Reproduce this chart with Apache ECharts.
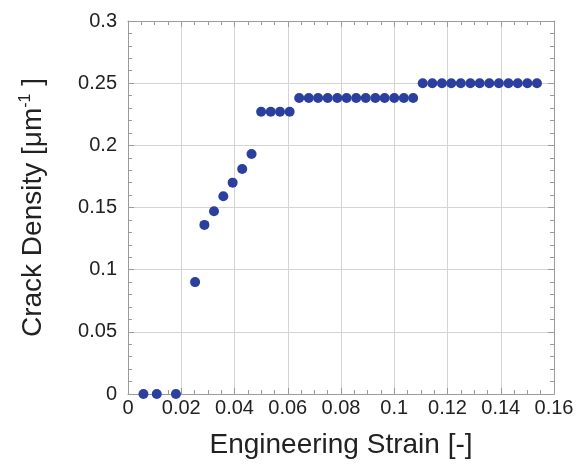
<!DOCTYPE html>
<html>
<head>
<meta charset="utf-8">
<script src="https://cdn.jsdelivr.net/npm/echarts@6/dist/echarts.min.js"></script>
<style>
  html, body { margin: 0; padding: 0; background: #fff; }
  #chart { width: 579px; height: 468px; }
</style>
</head>
<body>
<div id="chart"></div>
<script>
// Engineering strain [-]
const strain = [
  0.0058, 0.0108, 0.018,
  0.0252, 0.0287, 0.0323, 0.0358, 0.0393, 0.0429, 0.0464,
  0.05, 0.0536, 0.0571, 0.0607,
  0.0643, 0.0679, 0.0714, 0.075, 0.0786, 0.0821, 0.0857, 0.0893, 0.0929, 0.0964, 0.1, 0.1036, 0.1071,
  0.1107, 0.1143, 0.1179, 0.1214, 0.125, 0.1286, 0.1321, 0.1357, 0.1393, 0.1429, 0.1464, 0.15, 0.1536
];
// Crack density [um^-1]
const crackDensity = [
  0, 0, 0,
  0.090, 0.136, 0.147, 0.159, 0.170, 0.181, 0.193,
  0.227, 0.227, 0.227, 0.227,
  0.238, 0.238, 0.238, 0.238, 0.238, 0.238, 0.238, 0.238, 0.238, 0.238, 0.238, 0.238, 0.238,
  0.250, 0.250, 0.250, 0.250, 0.250, 0.250, 0.250, 0.250, 0.250, 0.250, 0.250, 0.250, 0.250
];
const xTicks = ['0', '0.02', '0.04', '0.06', '0.08', '0.1', '0.12', '0.14', '0.16'];
const yTicks = ['0', '0.05', '0.1', '0.15', '0.2', '0.25', '0.3'];

const FONT = 'Liberation Sans, Arial, sans-serif';
const points = strain.map((x, i) => [x, crackDensity[i]]);

const frameLine = { show: true, onZero: false, lineStyle: { color: '#9a9a9a', width: 1 } };
const majorTick = { show: true, inside: true, length: 6, lineStyle: { color: '#9a9a9a' } };
const xMinor = { show: true, splitNumber: 4, length: 4, lineStyle: { color: '#9a9a9a' } };
const yMinor = { show: true, splitNumber: 5, length: 4, lineStyle: { color: '#9a9a9a' } };

const chart = echarts.init(document.getElementById('chart'), null, { renderer: 'canvas' });
chart.setOption({
  backgroundColor: '#ffffff',
  animation: false,
  grid: { left: 128, right: 25, top: 21, bottom: 74, containLabel: false },
  xAxis: [
    {
      type: 'value', min: 0, max: 0.16, interval: 0.02, position: 'bottom',
      axisLine: frameLine,
      axisTick: majorTick,
      minorTick: xMinor,
      axisLabel: {
        color: '#222', fontSize: 20, fontFamily: FONT, margin: 4,
        formatter: v => xTicks[Math.round(v / 0.02)]
      },
      splitLine: { show: true, lineStyle: { color: '#d4d4d4', width: 1 } },
      name: 'Engineering Strain [-]',
      nameLocation: 'middle', nameGap: 37,
      nameTextStyle: { color: '#222', fontSize: 28, fontFamily: FONT }
    },
    {
      type: 'value', min: 0, max: 0.16, interval: 0.02, position: 'top',
      axisLine: frameLine,
      axisTick: majorTick,
      minorTick: xMinor,
      axisLabel: { show: false },
      splitLine: { show: false }
    }
  ],
  yAxis: [
    {
      type: 'value', min: 0, max: 0.3, interval: 0.05, position: 'left',
      axisLine: frameLine,
      axisTick: majorTick,
      minorTick: yMinor,
      axisLabel: {
        color: '#222', fontSize: 20, fontFamily: FONT, margin: 11,
        formatter: v => yTicks[Math.round(v / 0.05)]
      },
      splitLine: { show: true, lineStyle: { color: '#d4d4d4', width: 1 } },
      name: '{t|Crack Density [μm}{s|-1}{t| ]}',
      nameLocation: 'middle', nameGap: 80, nameRotate: 90,
      nameTextStyle: {
        rich: {
          t: { color: '#222', fontSize: 28, fontFamily: FONT },
          s: { color: '#222', fontSize: 16, fontFamily: FONT, verticalAlign: 'top', padding: [0, 0, 14, 0] }
        }
      }
    },
    {
      type: 'value', min: 0, max: 0.3, interval: 0.05, position: 'right',
      axisLine: frameLine,
      axisTick: majorTick,
      minorTick: yMinor,
      axisLabel: { show: false },
      splitLine: { show: false }
    }
  ],
  series: [
    {
      type: 'scatter',
      xAxisIndex: 0, yAxisIndex: 0,
      data: points,
      symbol: 'circle',
      symbolSize: 10,
      itemStyle: { color: '#2a3f9e', opacity: 1 }
    }
  ]
});
</script>
</body>
</html>
